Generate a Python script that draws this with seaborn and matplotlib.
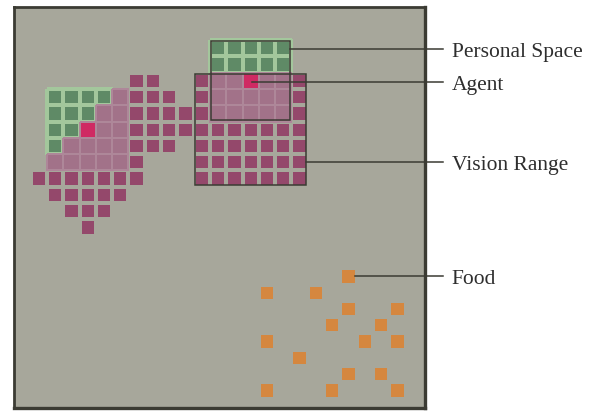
import numpy as np
import matplotlib.pyplot as plt
import seaborn as sns
from matplotlib.colors import ListedColormap, to_rgba
from matplotlib.patches import Rectangle

# cells are (col, row), row 0 is the top of the world
agent_cols = [4, 14]
agent_rows = [7, 4]

# vision of the left agent, one run of cells per row
vis_a_rows = [4, 5, 6, 7, 8, 9, 10, 11, 12, 13]
vis_a_first = [7, 6, 5, 5, 3, 2, 1, 2, 3, 4]
vis_a_last = [8, 9, 10, 10, 9, 7, 7, 6, 5, 4]

# vision of the right agent, a square block
vis_b_cols = [11, 17]
vis_b_rows = [4, 10]

food_cols = [20, 15, 18, 20, 23, 19, 22, 15, 21, 23, 17, 20, 22, 15, 19, 23]
food_rows = [16, 17, 17, 18, 18, 19, 19, 20, 20, 20, 21, 22, 22, 23, 23, 23]

labels = ["Personal Space", "Agent", "Vision Range", "Food"]

bg = "#a7a79b"
c_vision = "#94486b"
c_muted = "#a27289"
c_muted_line = "#ae8799"
c_green = "#5f8a66"
c_green_line = "#a3c79c"
c_agent = "#cf2a63"
c_food = "#d5873f"
c_frame = "#3b3b33"

n_rows, n_cols = 25, 26
vision = np.zeros((n_rows, n_cols), bool)
for r, a, b in zip(vis_a_rows, vis_a_first, vis_a_last):
    vision[r, a:b + 1] = True
vision[vis_b_rows[0]:vis_b_rows[1] + 1, vis_b_cols[0]:vis_b_cols[1] + 1] = True

personal = np.zeros_like(vision)
agent = np.zeros_like(vision)
for c, r in zip(agent_cols, agent_rows):
    personal[r - 2:r + 3, c - 2:c + 3] = True
    agent[r, c] = True
food = np.zeros_like(vision)
food[food_rows, food_cols] = True

dark = vision & ~personal
green = personal & ~vision & ~agent
muted = personal & vision & ~agent


def layer(values, show, colors, lw, line):
    sns.heatmap(values.astype(float), mask=~show, cmap=ListedColormap(colors),
                vmin=0, vmax=1, cbar=False, linewidths=lw, linecolor=line, ax=ax,
                xticklabels=False, yticklabels=False)
    # only draw cell edges where a cell is shown
    mesh = ax.collections[-1]
    ec = np.array([to_rgba(line) if s else (0, 0, 0, 0) for s in show.ravel()])
    mesh.set_edgecolor(ec)


fig = plt.figure(figsize=(5.92, 4.11), dpi=100, facecolor="white")
ax = fig.add_axes([14 / 592, 1 - 407.8 / 411, (425.3 - 14) / 592, (407.8 - 7) / 411])
ax.set_facecolor(bg)

layer(food, dark | food, [c_vision, c_food], 2.6, bg)
layer(green, green, [c_green], 1.5, c_green_line)
layer(agent, muted | agent, [c_muted, c_agent], 1.1, c_muted_line)

ax.set_xlim(-0.025, 25.21)
ax.set_ylim(24.56, -0.025)
ax.set_xticks([])
ax.set_yticks([])
for s in ax.spines.values():
    s.set_visible(True)
    s.set_color(c_frame)
    s.set_linewidth(2)
ax.spines["right"].set_linewidth(2.4)
ax.spines["bottom"].set_linewidth(2.4)

# boxes
ac, ar = agent_cols[1], agent_rows[1]
ax.add_patch(Rectangle((ac - 2 + 0.08, ar - 2 + 0.08), 5 - 0.16, 5 - 0.16,
                       fill=False, ec=c_frame, lw=1.1))
ax.add_patch(Rectangle((vis_b_cols[0] + 0.1, vis_b_rows[0] + 0.1),
                       vis_b_cols[1] - vis_b_cols[0] + 0.8, vis_b_rows[1] - vis_b_rows[0] + 0.8,
                       fill=False, ec=c_frame, lw=1.1))

# leader lines and labels
starts = [ac + 3 - 0.1, ac + 0.6, vis_b_cols[1] + 0.9, food_cols[0] + 0.9]
ys = [ar - 2 + 0.55, ar + 0.55, 9.5, food_rows[0] + 0.5]
for x0, y, lab in zip(starts, ys, labels):
    ax.plot([x0, 26.3], [y, y], color=c_frame, lw=1.1, clip_on=False)
    ax.text(26.83, y + 0.49, lab, va="baseline", ha="left", fontsize=15.5,
            family="Liberation Serif", color="#2e2e2e", clip_on=False)

fig.savefig("out.png", dpi=100, facecolor="white")
